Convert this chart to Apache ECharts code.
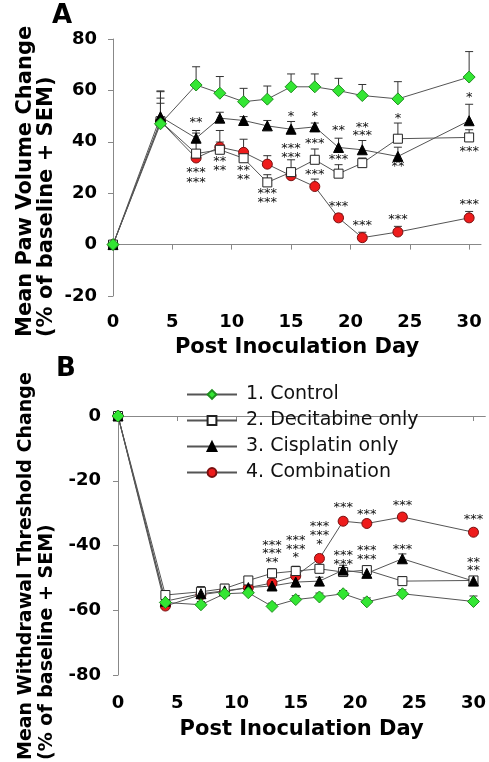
<!DOCTYPE html>
<html>
<head>
<meta charset="utf-8">
<script src="https://cdn.jsdelivr.net/npm/echarts@6.0.0/dist/echarts.min.js"></script>
<style>
html, body { margin: 0; padding: 0; background: #fff; }
#chart { width: 489px; height: 762px; }
</style>
</head>
<body>
<div id="chart"></div>
<script>
// days of measurement (post inoculation)
var days = [0, 4, 7, 9, 11, 13, 15, 17, 19, 21, 24, 30];
var xTicks = [0, 5, 10, 15, 20, 25, 30];

// panel A: paw volume change (% of baseline), mean and SEM
var pawControl     = [0, 47.0, 62.1, 58.9, 55.6, 56.6, 61.4, 61.4, 59.9, 58.0, 56.7, 65.2];
var pawControlSem  = [0, 12.5, 7.1, 6.5, 5.2, 5.1, 5.0, 5.0, 4.8, 4.3, 6.7, 9.9];
var pawDecit       = [0, 48.0, 35.4, 36.9, 33.6, 24.2, 28.2, 33.0, 27.6, 31.7, 41.2, 41.7];
var pawDecitSem    = [0, 9.0, 8.0, 7.5, 2.5, 3.0, 4.8, 4.2, 3.5, 2.0, 6.1, 3.0];
var pawCispl       = [0, 49.8, 41.4, 49.2, 48.3, 46.2, 44.9, 45.8, 37.8, 36.9, 34.3, 48.2];
var pawCisplSem    = [0, 10.0, 3.0, 2.3, 1.5, 2.1, 3.0, 1.5, 3.6, 3.6, 3.6, 6.4];
var pawCombo       = [0, 48.0, 33.7, 37.9, 35.9, 31.3, 26.8, 22.6, 10.4, 2.7, 4.9, 10.4];
var pawComboSem    = [0, 7.0, 2.0, 2.0, 5.1, 3.3, 1.5, 2.9, 1.5, 2.1, 2.2, 2.5];

// panel B: withdrawal threshold change (% of baseline), mean and SEM
var thrControl     = [0, -57.6, -58.3, -54.9, -54.6, -58.8, -56.7, -55.9, -54.9, -57.4, -54.9, -57.3];
var thrControlSem  = [0, 1.0, 1.0, 1.0, 1.0, 1.0, 1.2, 1.2, 1.0, 1.2, 1.2, 1.7];
var thrDecit       = [0, -55.3, -54.3, -53.3, -50.8, -48.6, -47.9, -47.2, -48.2, -47.6, -51.0, -50.8];
var thrDecitSem    = [0, 1.2, 1.5, 1.3, 1.2, 1.4, 1.5, 1.2, 1.2, 1.2, 1.3, 1.2];
var thrCispl       = [0, -57.2, -54.9, -54.0, -53.0, -52.5, -51.3, -51.0, -47.6, -48.6, -44.1, -51.0];
var thrCisplSem    = [0, 1.5, 2.2, 1.5, 1.2, 1.2, 1.2, 1.2, 1.5, 1.2, 1.5, 1.2];
var thrCombo       = [0, -58.7, -55.2, -54.2, -53.0, -51.6, -49.4, -44.0, -32.5, -33.2, -31.2, -35.9];
var thrComboSem    = [0, 1.0, 1.0, 1.0, 1.0, 1.0, 1.0, 1.0, 1.0, 1.0, 1.0, 1.0];

// significance marks: [day, value, text]
var starsA = [
  [7, 48.8, '**'], [7, 29.1, '***'], [7, 25.2, '***'],
  [9, 33.3, '**'], [9, 29.8, '**'],
  [11, 29.8, '**'], [11, 26.5, '**'],
  [13, 21.1, '***'], [13, 17.5, '***'],
  [15, 51.1, '*'], [15, 38.4, '***'], [15, 35.0, '***'],
  [17, 51.1, '*'], [17, 40.3, '***'], [17, 28.3, '***'],
  [19, 45.7, '**'], [19, 34.3, '***'], [19, 15.9, '***'],
  [21, 46.5, '**'], [21, 43.4, '***'], [21, 8.7, '***'],
  [24, 50.2, '*'], [24, 31.5, '**'], [24, 10.8, '***'],
  [30, 58.5, '*'], [30, 37.5, '***'], [30, 16.7, '***']
];
var starsB = [
  [13, -39.2, '***'], [13, -41.7, '***'], [13, -44.3, '**'],
  [15, -37.6, '***'], [15, -40.2, '***'], [15, -42.8, '*'],
  [17, -33.2, '***'], [17, -35.9, '***'], [17, -38.7, '*'],
  [19, -27.4, '***'], [19, -42.3, '***'], [19, -45.1, '***'],
  [21, -29.4, '***'], [21, -40.7, '***'], [21, -43.3, '***'],
  [24, -26.9, '***'], [24, -40.2, '***'],
  [30, -31.0, '***'], [30, -44.3, '**'], [30, -46.9, '**']
];

var groups = ['1. Control', '2. Decitabine only', '3. Cisplatin only', '4. Combination'];

var lineGray = '#555';
var font = 'DejaVu Sans';

function lineSeries(name, vals, idx, sym, size, fill, edge) {
  return {
    name: name, type: 'line', xAxisIndex: idx, yAxisIndex: idx,
    data: days.map(function (d, i) { return [d, vals[i]]; }),
    symbol: sym, symbolSize: size,
    lineStyle: { color: lineGray, width: 1 },
    itemStyle: { color: fill, borderColor: edge, borderWidth: 1 },
    z: 3, animation: false
  };
}

function semSeries(vals, sem, idx) {
  return {
    type: 'custom', xAxisIndex: idx, yAxisIndex: idx, z: 2, silent: true, animation: false,
    data: days.map(function (d, i) { return [d, vals[i], sem[i]]; }).filter(function (r) { return r[2] > 0; }),
    renderItem: function (params, api) {
      var x = api.value(0), y = api.value(1), e = api.value(2);
      var p0 = api.coord([x, y]);
      var p1 = api.coord([x, y + e]);
      var st = { stroke: '#333', lineWidth: 1 };
      return {
        type: 'group',
        children: [
          { type: 'line', shape: { x1: p0[0], y1: p0[1], x2: p1[0], y2: p1[1] }, style: st },
          { type: 'line', shape: { x1: p1[0] - 4, y1: p1[1], x2: p1[0] + 4, y2: p1[1] }, style: st }
        ]
      };
    }
  };
}

function starSeries(stars, idx) {
  return {
    type: 'custom', xAxisIndex: idx, yAxisIndex: idx, z: 5, silent: true, animation: false,
    data: stars.map(function (s) { return [s[0], s[1]]; }),
    renderItem: function (params, api) {
      var p = api.coord([api.value(0), api.value(1)]);
      return {
        type: 'text', x: p[0], y: p[1] + 3,
        style: {
          text: stars[params.dataIndex][2], align: 'center', verticalAlign: 'middle',
          font: '13px "DejaVu Sans"', fill: '#111'
        }
      };
    }
  };
}

function xAxisFor(idx, labelMargin, nameGap) {
  return {
    type: 'value', gridIndex: idx, min: 0, max: 31,
    name: 'Post Inoculation Day', nameLocation: 'middle', nameGap: nameGap,
    nameTextStyle: { fontFamily: font, fontWeight: 'bold', fontSize: 21, color: '#000' },
    axisLine: { lineStyle: { color: '#888', width: 1 } },
    axisTick: { show: true, length: 5, customValues: xTicks, lineStyle: { color: '#888' } },
    axisLabel: { customValues: xTicks, margin: labelMargin, fontFamily: font, fontWeight: 'bold', fontSize: 18, color: '#000' },
    splitLine: { show: false }
  };
}

function yAxisFor(idx, min, max, labelMargin) {
  return {
    type: 'value', gridIndex: idx, min: min, max: max, interval: 20,
    axisLine: { show: true, lineStyle: { color: '#888', width: 1 } },
    axisTick: { show: true, length: 5, lineStyle: { color: '#888' } },
    axisLabel: { margin: labelMargin, fontFamily: font, fontWeight: 'bold', fontSize: 18, color: '#000' },
    splitLine: { show: false }
  };
}

var mychart = echarts.init(document.getElementById('chart'));
var option = {
  backgroundColor: '#fff',
  animation: false,
  grid: [
    { left: 113, top: 39, width: 368, height: 257 },
    { left: 118, top: 416, width: 369, height: 259 }
  ],
  xAxis: [xAxisFor(0, 17, 41), xAxisFor(1, 19, 44)],
  yAxis: [yAxisFor(0, -20, 80, 16), yAxisFor(1, -80, 0, 17)],
  legend: {
    data: groups, orient: 'vertical', left: 181, top: 380,
    itemWidth: 50, itemHeight: 11, itemGap: 7,
    textStyle: { fontFamily: font, fontSize: 19, color: '#111', padding: [0, 0, 0, 4] }
  },
  graphic: [
    { type: 'text', x: 62, y: 16, style: { text: 'A', font: 'bold 26px "DejaVu Sans"', fill: '#000', align: 'center', verticalAlign: 'middle' } },
    { type: 'text', x: 66, y: 369, style: { text: 'B', font: 'bold 26px "DejaVu Sans"', fill: '#000', align: 'center', verticalAlign: 'middle' } },
    { type: 'text', x: 26, y: 337, rotation: Math.PI / 2, style: { text: 'Mean Paw Volume Change', font: 'bold 21px "DejaVu Sans"', fill: '#000', align: 'left', verticalAlign: 'middle' } },
    { type: 'text', x: 47, y: 337, rotation: Math.PI / 2, style: { text: '(% of baseline + SEM)', font: 'bold 21px "DejaVu Sans"', fill: '#000', align: 'left', verticalAlign: 'middle' } },
    { type: 'text', x: 26, y: 760, rotation: Math.PI / 2, style: { text: 'Mean Withdrawal Threshold Change', font: 'bold 19px "DejaVu Sans"', fill: '#000', align: 'left', verticalAlign: 'middle' } },
    { type: 'text', x: 47, y: 760, rotation: Math.PI / 2, style: { text: '(% of baseline + SEM)', font: 'bold 19px "DejaVu Sans"', fill: '#000', align: 'left', verticalAlign: 'middle' } }
  ],
  series: [
    semSeries(pawCombo, pawComboSem, 0),
    semSeries(pawDecit, pawDecitSem, 0),
    semSeries(pawCispl, pawCisplSem, 0),
    semSeries(pawControl, pawControlSem, 0),
    lineSeries(groups[3], pawCombo, 0, 'circle', 10, '#ee1c1c', '#7a1010'),
    lineSeries(groups[1], pawDecit, 0, 'rect', 9, '#ffffff', '#222'),
    lineSeries(groups[2], pawCispl, 0, 'triangle', 10, '#000000', '#000'),
    lineSeries(groups[0], pawControl, 0, 'diamond', 12, '#33e633', '#1f8f1f'),
    starSeries(starsA, 0),

    semSeries(thrCombo, thrComboSem, 1),
    semSeries(thrDecit, thrDecitSem, 1),
    semSeries(thrCispl, thrCisplSem, 1),
    semSeries(thrControl, thrControlSem, 1),
    lineSeries(groups[3], thrCombo, 1, 'circle', 10, '#ee1c1c', '#7a1010'),
    lineSeries(groups[1], thrDecit, 1, 'rect', 9, '#ffffff', '#222'),
    lineSeries(groups[2], thrCispl, 1, 'triangle', 10, '#000000', '#000'),
    lineSeries(groups[0], thrControl, 1, 'diamond', 12, '#33e633', '#1f8f1f'),
    starSeries(starsB, 1)
  ]
};
mychart.setOption(option);
</script>
</body>
</html>
